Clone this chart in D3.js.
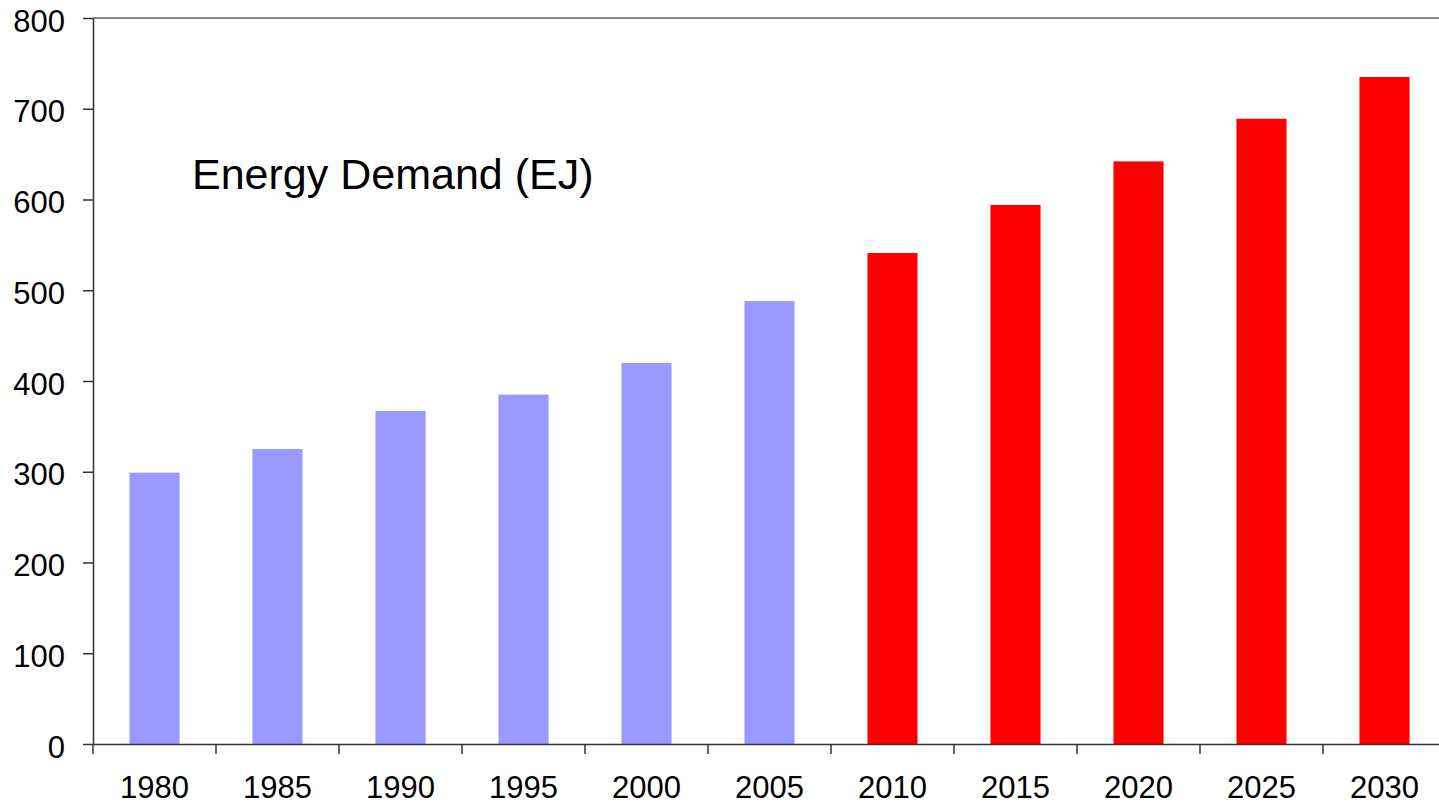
<!DOCTYPE html>
<html lang="en">
<head>
  <meta charset="UTF-8">
  <title>Energy Demand</title>
  <style>
    body { margin: 0; background: #fff; overflow: hidden; }
    svg { display: block; }
    text { font-family: "Liberation Sans", Arial, sans-serif; fill: #000; }
  </style>
</head>
<body>
  <div id="chart"></div>

  <script src="https://d3js.org/d3.v7.min.js"></script>
  <script>
    // data
    const years = ["1980", "1985", "1990", "1995", "2000", "2005", "2010", "2015", "2020", "2025", "2030"]
    const demand = [299, 325, 367, 385, 420, 488, 541, 594, 642, 689, 735]
    const projected = [false, false, false, false, false, false, true, true, true, true, true]
    const yTicks = [0, 100, 200, 300, 400, 500, 600, 700, 800]

    const data = years.map((y, i) => ({ year: y, value: demand[i], proj: projected[i] }))

    const WIDTH = 1439, HEIGHT = 806
    const margin = { top: 18, left: 93, bottom: 62 }
    const plotRight = 1446   // plot area runs a little past the window

    const svg = d3.select("#chart").append("svg")
      .attr("width", WIDTH)
      .attr("height", HEIGHT)

    // scales
    const x = d3.scaleBand()
      .domain(years)
      .range([margin.left, plotRight])
      .paddingInner(0.593)
      .paddingOuter(0.593 / 2)

    const y = d3.scaleLinear()
      .domain([0, 800])
      .range([HEIGHT - margin.bottom, margin.top])

    // top border of plot area
    svg.append("line")
      .attr("x1", margin.left).attr("x2", plotRight)
      .attr("y1", y(800)).attr("y2", y(800))
      .attr("stroke", "#8a8a8a")
      .attr("stroke-width", 2)

    // bars
    svg.append("g").selectAll("rect")
      .data(data).enter()
      .append("rect")
      .attr("x", d => x(d.year))
      .attr("y", d => y(d.value))
      .attr("width", x.bandwidth())
      .attr("height", d => y(0) - y(d.value))
      .attr("fill", d => d.proj ? "#FF0000" : "#9999FF")

    // Y axis
    const yAxis = d3.axisLeft(y)
      .tickValues(yTicks)
      .tickSize(10)
      .tickSizeOuter(0)
      .tickPadding(18)

    svg.append("g")
      .attr("transform", `translate(${margin.left}, 0)`)
      .call(yAxis)
      .call(g => g.select(".domain").attr("stroke", "#333").attr("stroke-width", 1.5))
      .call(g => g.selectAll(".tick line").attr("stroke", "#333").attr("stroke-width", 1.5))
      .selectAll("text")
      .attr("dy", "0.42em")
      .style("font-size", "31px")
      .style("font-family", "Liberation Sans, Arial, sans-serif")
      .style("fill", "#000")

    // X axis: labels under bars, ticks between categories
    const xAxis = d3.axisBottom(x)
      .tickSize(0)
      .tickPadding(32)

    const gx = svg.append("g")
      .attr("transform", `translate(0, ${y(0)})`)
      .call(xAxis)
      .call(g => g.select(".domain").attr("stroke", "#333").attr("stroke-width", 1.5))

    gx.selectAll("text")
      .style("font-size", "31px")
      .style("font-family", "Liberation Sans, Arial, sans-serif")
      .style("fill", "#000")

    const gap = (x.step() - x.bandwidth()) / 2
    gx.selectAll(".sep")
      .data(years).enter()
      .append("line")
      .attr("class", "sep")
      .attr("x1", d => x(d) - gap).attr("x2", d => x(d) - gap)
      .attr("y1", 0).attr("y2", 10)
      .attr("stroke", "#333")
      .attr("stroke-width", 1.5)

    // title
    svg.append("text")
      .attr("x", 192)
      .attr("y", 189)
      .attr("font-size", "43px")
      .text("Energy Demand (EJ)")
  </script>
</body>
</html>
